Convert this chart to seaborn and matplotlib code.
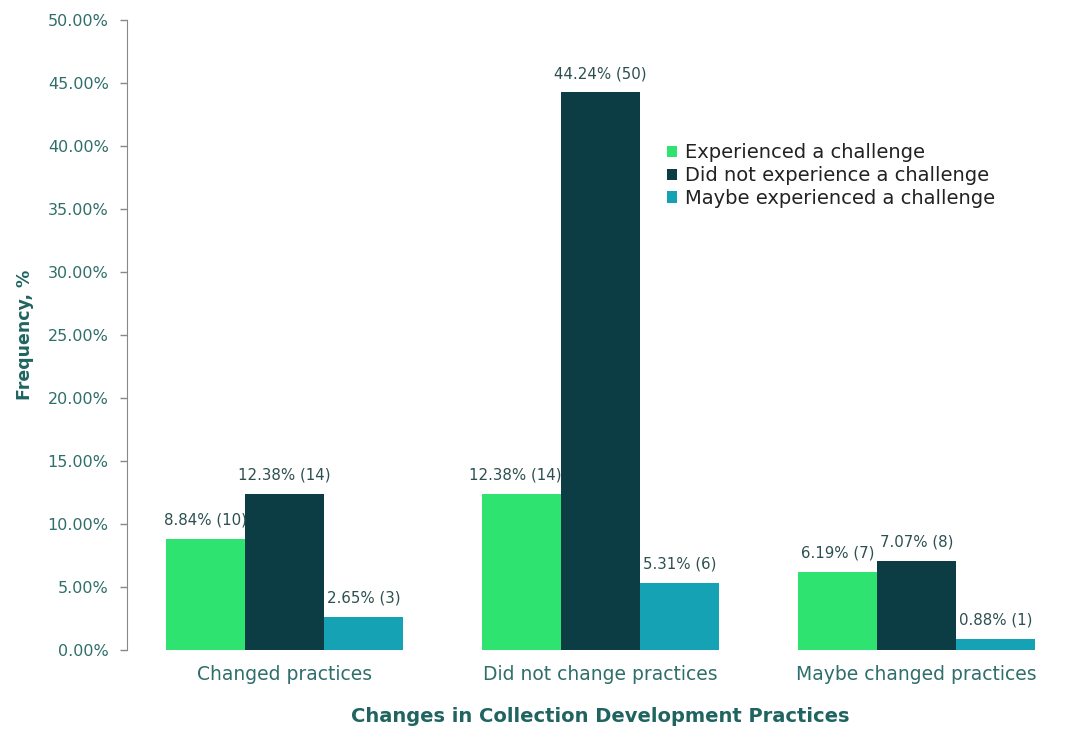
import pandas as pd
import matplotlib
matplotlib.use('Agg')
import matplotlib.pyplot as plt
import seaborn as sns

categories = ["Changed practices", "Did not change practices", "Maybe changed practices"]
series = ["Experienced a challenge", "Did not experience a challenge", "Maybe experienced a challenge"]
pct = {
    "Experienced a challenge": [8.84, 12.38, 6.19],
    "Did not experience a challenge": [12.38, 44.24, 7.07],
    "Maybe experienced a challenge": [2.65, 5.31, 0.88],
}
counts = {
    "Experienced a challenge": [10, 14, 7],
    "Did not experience a challenge": [14, 50, 8],
    "Maybe experienced a challenge": [3, 6, 1],
}
colors = ["#2ee36f", "#0c3d45", "#16a2b5"]

rows = []
for s in series:
    for c, v in zip(categories, pct[s]):
        rows.append({"Practice": c, "Challenge": s, "Frequency": v})
df = pd.DataFrame(rows)

sns.set_style("white")
fig = plt.figure(figsize=(10.65, 7.32), dpi=100)
ax = fig.add_axes([0.119, 0.112, 0.89, 0.861])

sns.barplot(data=df, x="Practice", y="Frequency", hue="Challenge",
            order=categories, hue_order=series, palette=colors,
            width=0.75, saturation=1, linewidth=0, ax=ax)

all_labels = []
for cont, s in zip(ax.containers, series):
    labels = [f"{v:.2f}% ({n})" for v, n in zip(pct[s], counts[s])]
    texts = ax.bar_label(cont, labels=labels, padding=8, fontsize=10.8, color="#2d4f50")
    all_labels.append(texts)

ax.set_ylim(0, 50)
ax.set_yticks(range(0, 51, 5))
ax.set_yticklabels([f"{t:.2f}%" for t in range(0, 51, 5)])
ax.tick_params(axis="y", labelsize=11.5, labelcolor="#2f6e6a", length=5, width=1,
               color="#888888", direction="out", left=True, pad=8)
ax.tick_params(axis="x", labelsize=13.5, labelcolor="#2f6e6a", length=0, pad=11)
for sp in ["top", "right", "bottom"]:
    ax.spines[sp].set_visible(False)
ax.spines["left"].set_color("#888888")

ax.set_ylabel("Frequency, %", fontsize=12.5, fontweight="bold", color="#1f6460", labelpad=10)
ax.set_xlabel("Changes in Collection Development Practices", fontsize=14, fontweight="bold",
              color="#1f6460", labelpad=16)

leg = ax.legend(loc="upper left", bbox_to_anchor=(0.552, 0.832), frameon=False, fontsize=14,
                handlelength=0.5, handleheight=0.5, handletextpad=0.4, labelspacing=0.2)
for t in leg.get_texts():
    t.set_color("#222222")

# labels that would run into a taller neighbour bar are right-aligned to their own bar
fig.canvas.draw()
renderer = fig.canvas.get_renderer()
for i in range(len(series) - 1):
    for j, txt in enumerate(all_labels[i]):
        bar = ax.containers[i][j]
        nxt = ax.containers[i + 1][j]
        tb = txt.get_window_extent(renderer)
        nb = nxt.get_window_extent(renderer)
        if tb.x1 > nb.x0 + 5 and tb.y0 < nb.y1 + 10:
            txt.set_horizontalalignment("right")
            x_right = bar.get_x() + bar.get_width()
            txt.xy = (x_right, txt.xy[1])

fig.savefig("out.png", dpi=100)
